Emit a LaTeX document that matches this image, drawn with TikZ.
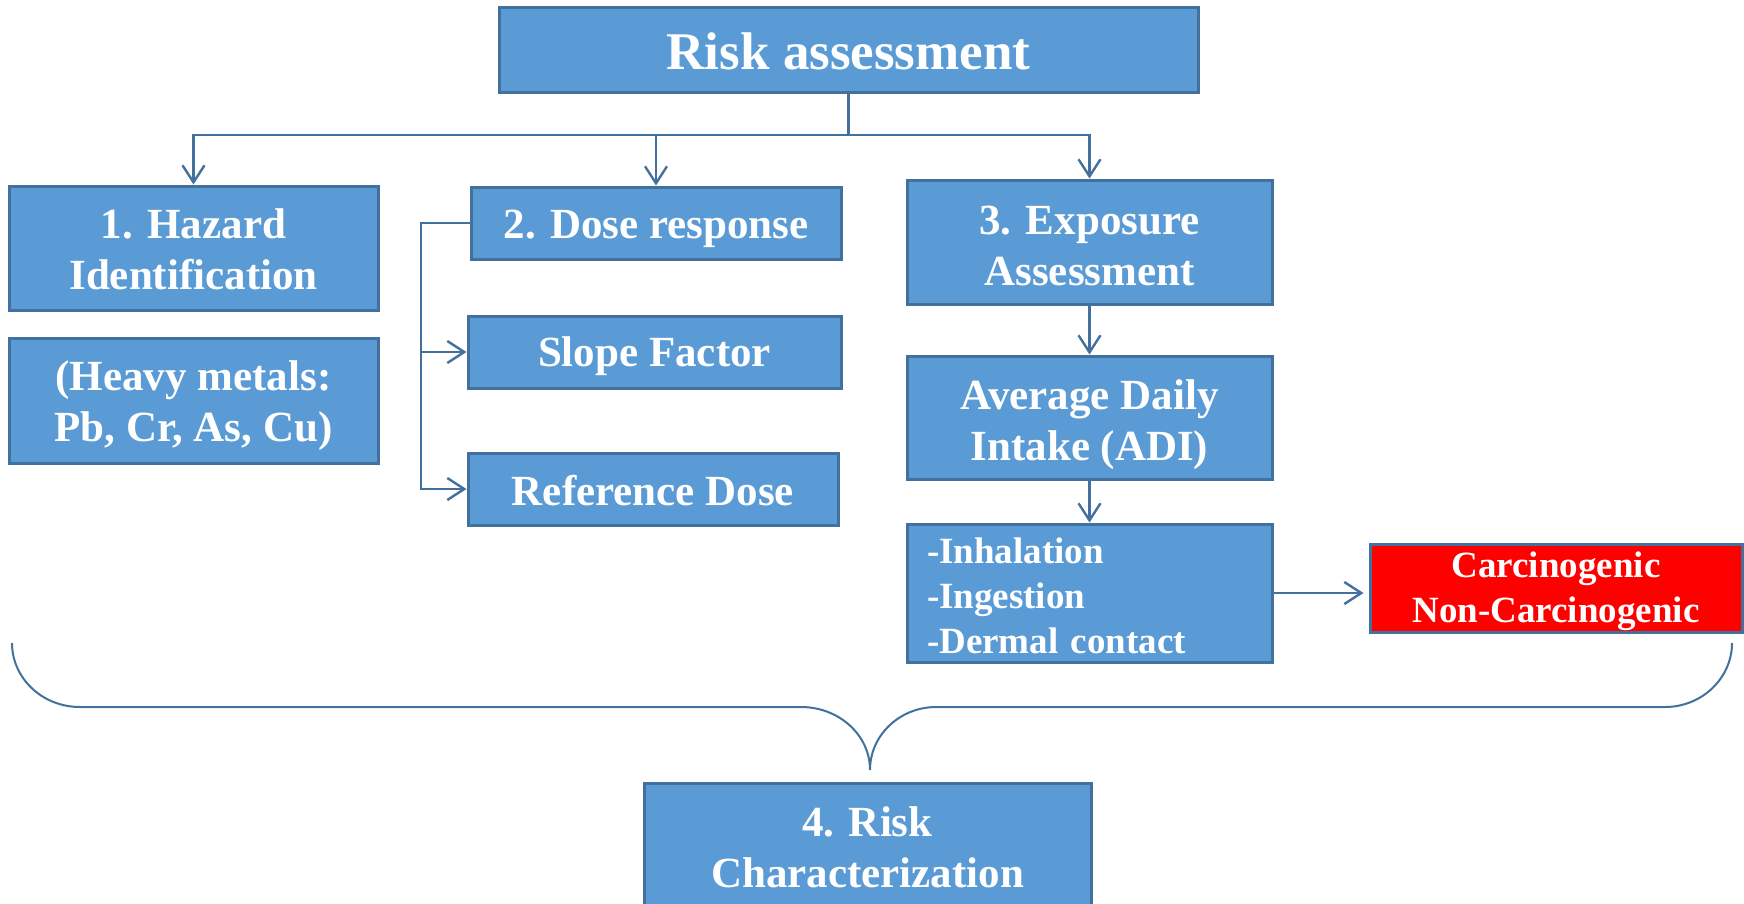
\documentclass[tikz,border=0pt]{standalone}
\usepackage{fontspec}
\setmainfont{Liberation Serif}
\usetikzlibrary{arrows.meta}
\definecolor{boxblue}{HTML}{5B9BD5}
\definecolor{edgeblue}{HTML}{41719C}
\definecolor{lineblue}{HTML}{41719C}
\definecolor{boxred}{HTML}{FF0000}
\newcommand{\tallfirst}[1]{\rule{0pt}{#1pt}}
\begin{document}
\begin{tikzpicture}[x=1pt,y=-1pt,
  box/.style={draw=edgeblue, line width=3pt, fill=boxblue, text=white, align=center, inner sep=0pt},
  fbig/.style={font=\fontsize{53}{60}\selectfont\bfseries},
  fmid/.style={font=\fontsize{43}{51}\selectfont\bfseries},
  fsmall/.style={font=\fontsize{37}{45}\selectfont\bfseries},
  conn/.style={draw=lineblue, line width=2.4pt},
  arr/.style={conn, -{Straight Barb[length=17pt,width=22pt,line width=2.4pt]}}]
\clip (0,0) rectangle (1744,903);
\fill[white] (0,0) rectangle (1744,903);

\node[box,fbig,minimum width=699pt,minimum height=85pt] (risk) at (848.5,49.5) {\tallfirst{40}Risk assessment};
\node[box,fmid,minimum width=369pt,minimum height=124pt] (haz) at (193.5,248) {\tallfirst{32}1. Hazard\\Identification};
\node[box,fmid,minimum width=369pt,minimum height=125pt] (heavy) at (193.5,400.5) {\tallfirst{41}(Heavy metals:\\Pb, Cr, As, Cu)};
\node[box,fmid,minimum width=370pt,minimum height=72pt] (dose) at (656,223) {\tallfirst{40.5}2. Dose response};
\node[box,fmid,minimum width=373pt,minimum height=72pt] (slope) at (654.5,352) {\tallfirst{38.5}Slope Factor};
\node[box,fmid,minimum width=370pt,minimum height=72pt] (ref) at (653,489) {\tallfirst{33.5}Reference Dose};
\node[box,fmid,minimum width=365pt,minimum height=124pt] (exp) at (1089.5,242) {\tallfirst{35.5}3. Exposure\\Assessment};
\node[box,fmid,minimum width=365pt,minimum height=123pt] (adi) at (1089.5,417.5) {\tallfirst{43.5}Average Daily\\Intake (ADI)};
\node[box,fsmall,minimum width=365pt,minimum height=138pt,text width=325pt,align=left] (routes) at (1089.5,593) {\tallfirst{31}-Inhalation\\-Ingestion\\-Dermal contact};
\node[box,fsmall,fill=boxred,minimum width=372pt,minimum height=88pt] (red) at (1556,588) {\tallfirst{33}Carcinogenic\\Non-Carcinogenic};
\node[box,fmid,minimum width=447pt,minimum height=126pt] (rc) at (867.5,846) {\tallfirst{31.5}4. Risk\\Characterization};

% top distribution
\coordinate (jtop) at (848.5,135);
\draw[conn] (risk.south) -- (jtop);
\draw[arr] (jtop) -| (haz.north);
\draw[arr] (jtop) -| (dose.north);
\draw[arr] (jtop) -| (exp.north);

% dose bracket
\coordinate (bk) at (421,223);
\draw[arr] (dose.west) -- (bk) |- (ref.west);
\draw[arr] (bk |- slope.west) -- (slope.west);

% exposure chain
\draw[arr] (exp.south) -- (adi.north);
\draw[arr] (adi.south) -- (routes.north);
\draw[arr] (routes.east) -- ([xshift=-5pt]routes.east -| red.west);

% brace
\coordinate (bl) at (12,643);
\coordinate (br) at (1732,643);
\coordinate (btip) at (870,770);
\draw[conn, line width=2pt] (bl) .. controls (12,678) and (42,707) .. (80,707) -- (801,707)
  .. controls (839,707) and (870,735) .. (btip)
  .. controls (870,735) and (900,707) .. (936,707) -- (1665,707)
  .. controls (1702,707) and (1732,678) .. (br);
\end{tikzpicture}
\end{document}
